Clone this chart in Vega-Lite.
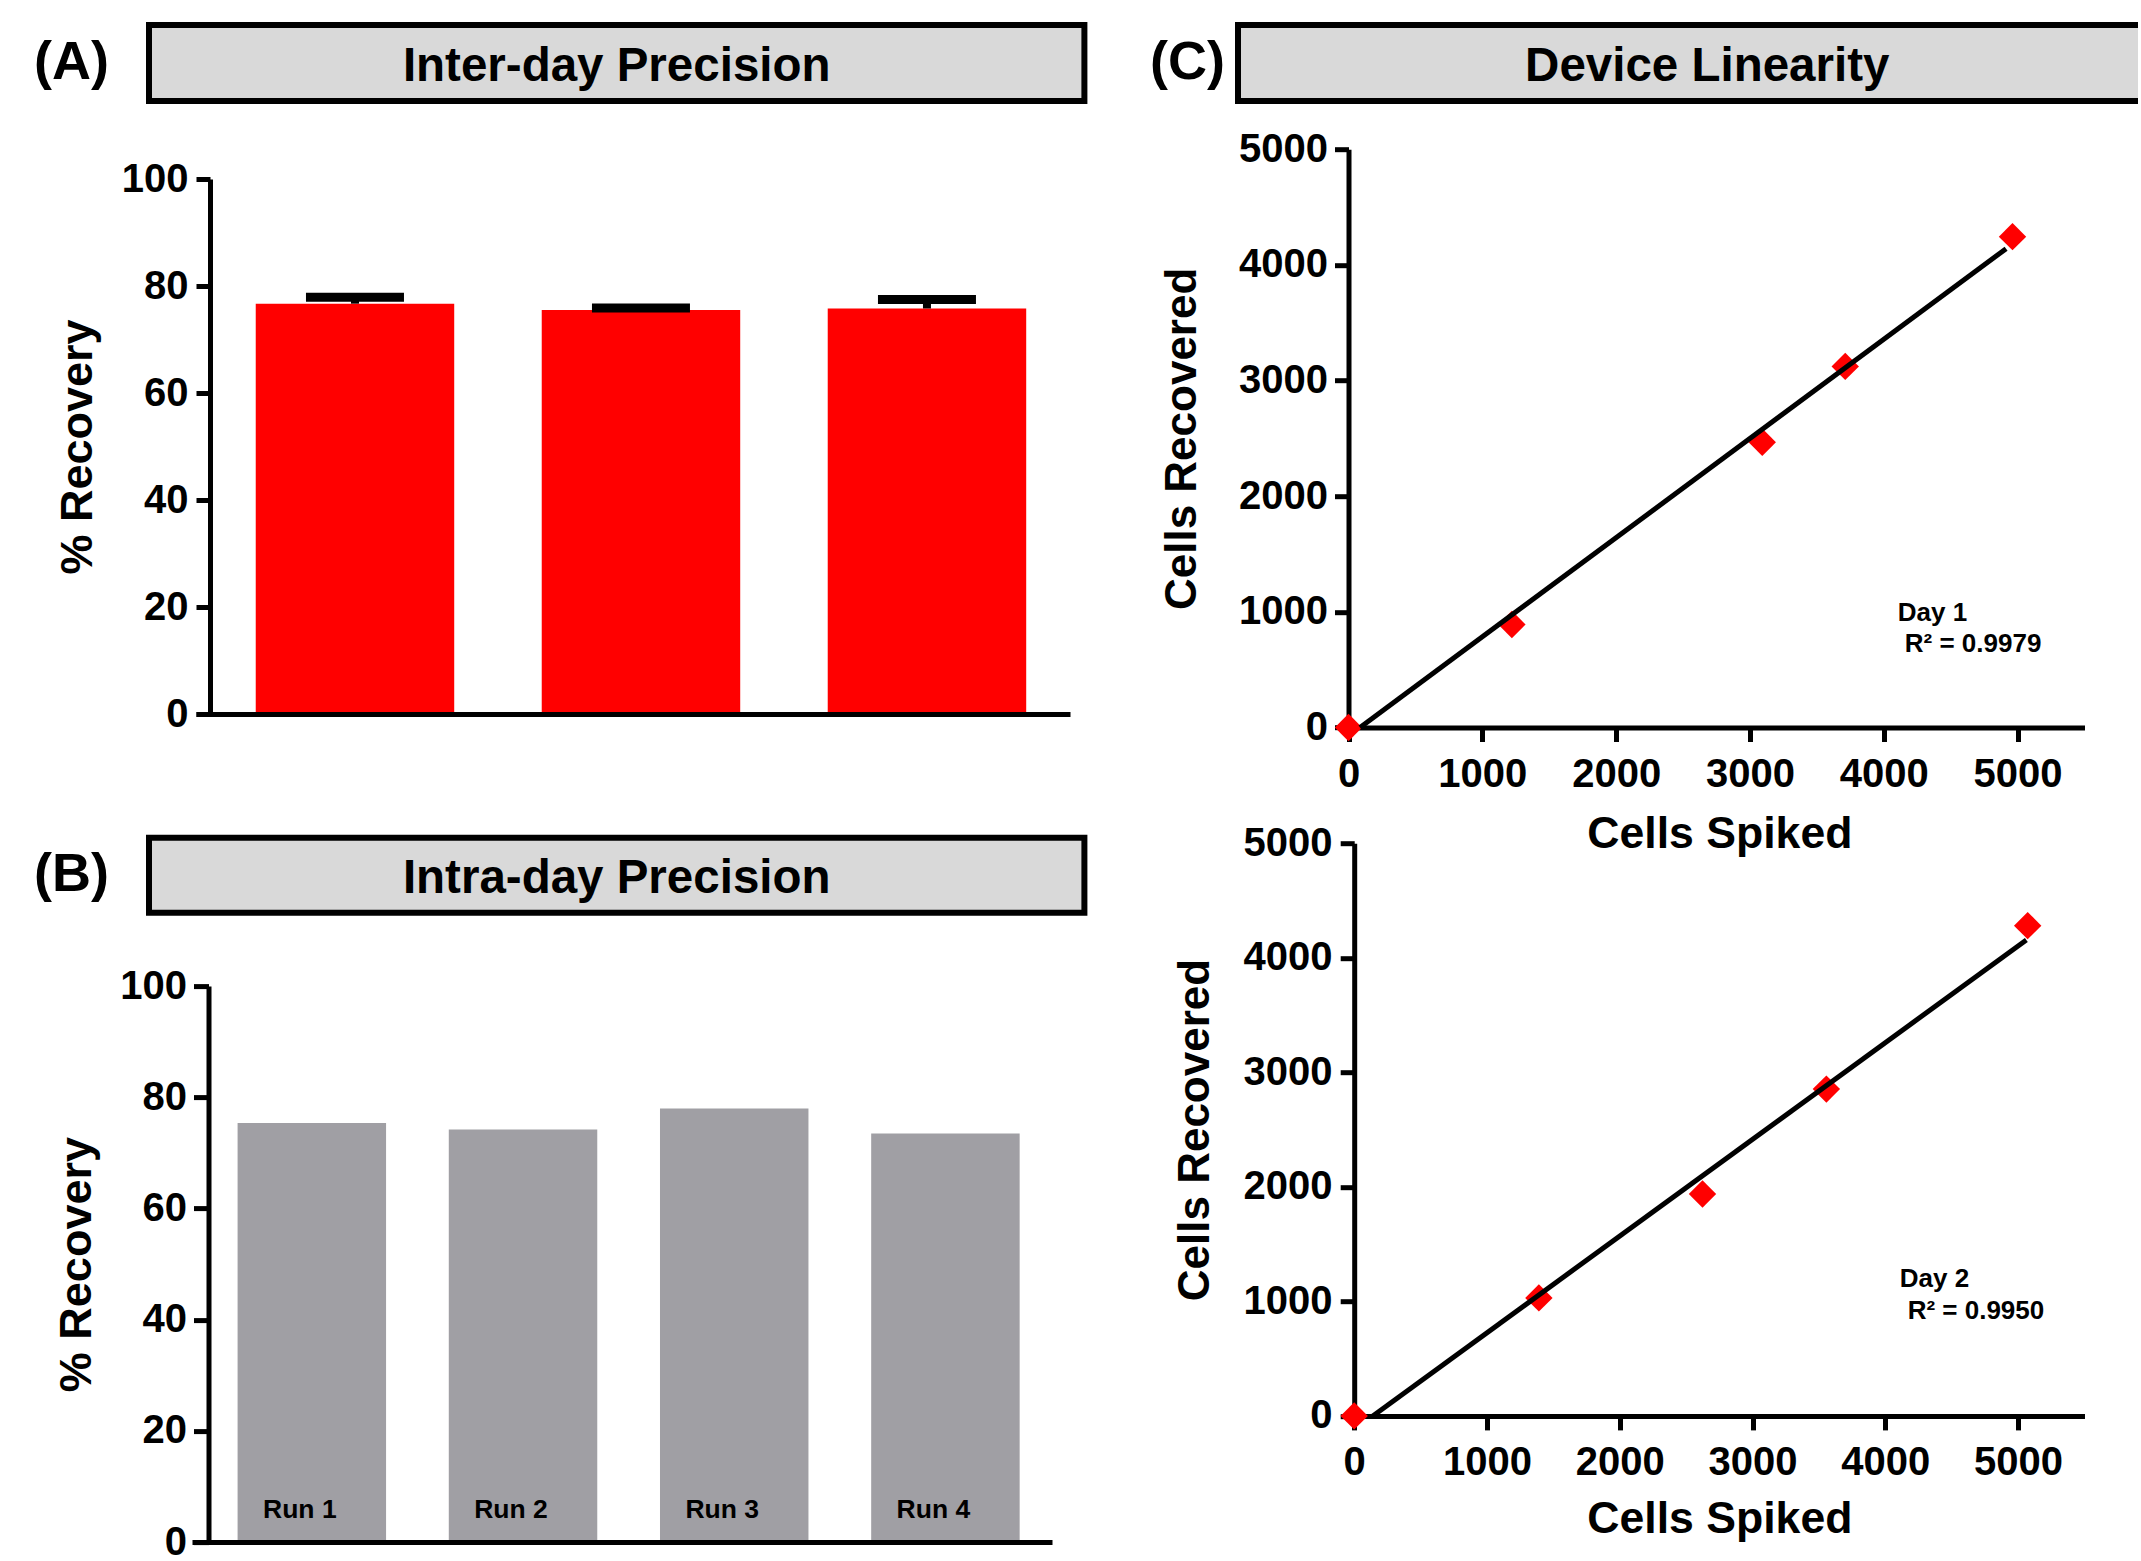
{
  "$schema": "https://vega.github.io/schema/vega-lite/v6.json",
  "background": "white",
  "padding": {"left": 31, "top": 22, "right": -7, "bottom": 0},
  "config": {
    "font": "Liberation Sans",
    "view": {"stroke": null},
    "axis": {
      "grid": false,
      "domainColor": "black",
      "tickColor": "black",
      "labelColor": "black",
      "titleColor": "black",
      "domainWidth": 5,
      "tickWidth": 5,
      "labelFontWeight": "bold",
      "titleFontWeight": "bold",
      "labelFlush": false,
      "labelFont": "Liberation Sans",
      "titleFont": "Liberation Sans"
    },
    "title": {"color": "black", "font": "Liberation Sans", "fontWeight": "bold"},
    "text": {"font": "Liberation Sans", "color": "black"}
  },
  "hconcat": [
    {
      "vconcat": [
        {
          "vconcat": [
            {
              "width": 935.4,
              "height": 76,
              "view": {"fill": "#d9d9d9", "stroke": "black", "strokeWidth": 6},
              "title": {"text": "(A)", "orient": "left", "angle": 0, "align": "right", "baseline": "middle", "anchor": "middle", "offset": -35, "fontSize": 54},
              "data": {"values": [{"header": "Inter-day Precision"}]},
              "mark": {"type": "text", "fontSize": 47.5, "fontWeight": "bold", "dy": 3.5},
              "encoding": {"text": {"field": "header"}}
            },
            {
              "width": 921,
              "height": 535,
              "data": {"values": [
                {"day": "Day 1", "recovery": 76.7, "upper": 77.9},
                {"day": "Day 2", "recovery": 75.5, "upper": 75.9},
                {"day": "Day 3", "recovery": 75.8, "upper": 77.5}
              ]},
              "encoding": {
                "x": {"field": "day", "type": "nominal", "sort": null,
                  "scale": {"rangeMin": 47, "paddingInner": 0.306, "paddingOuter": 0.181, "align": 0.577},
                  "axis": {"title": null, "labels": false, "ticks": false, "zindex": 1}}
              },
              "layer": [
                {
                  "mark": {"type": "bar", "color": "#ff0000"},
                  "encoding": {
                    "y": {"field": "recovery", "type": "quantitative",
                      "scale": {"domain": [0, 100], "nice": false},
                      "axis": {"title": "% Recovery", "values": [0, 20, 40, 60, 80, 100], "offset": -61, "tickSize": 14, "labelPadding": 8, "labelFontSize": 40, "titleFontSize": 45, "titlePadding": 21}}
                  }
                },
                {
                  "mark": {"type": "rule", "color": "black", "strokeWidth": 8},
                  "encoding": {"y": {"field": "recovery", "type": "quantitative"}, "y2": {"field": "upper"}}
                },
                {
                  "mark": {"type": "tick", "color": "black", "size": 98, "thickness": 9, "opacity": 1},
                  "encoding": {"y": {"field": "upper", "type": "quantitative"}}
                }
              ]
            }
          ],
          "spacing": 55
        },
        {
          "vconcat": [
            {
              "width": 935.4,
              "height": 75,
              "view": {"fill": "#d9d9d9", "stroke": "black", "strokeWidth": 6},
              "title": {"text": "(B)", "orient": "left", "angle": 0, "align": "right", "baseline": "middle", "anchor": "middle", "offset": -35, "fontSize": 54},
              "data": {"values": [{"header": "Intra-day Precision"}]},
              "mark": {"type": "text", "fontSize": 47.5, "fontWeight": "bold", "dy": 3.5},
              "encoding": {"text": {"field": "header"}}
            },
            {
              "width": 903,
              "height": 556,
              "data": {"values": [
                {"run": "Run 1", "recovery": 75.4},
                {"run": "Run 2", "recovery": 74.2},
                {"run": "Run 3", "recovery": 78.0},
                {"run": "Run 4", "recovery": 73.5}
              ]},
              "encoding": {
                "x": {"field": "run", "type": "nominal", "sort": null,
                  "scale": {"rangeMin": 43, "paddingInner": 0.297, "paddingOuter": 0.1845, "align": 0.585},
                  "axis": {"title": null, "labels": false, "ticks": false, "zindex": 1}}
              },
              "layer": [
                {
                  "mark": {"type": "bar", "color": "#a09fa4"},
                  "encoding": {
                    "y": {"field": "recovery", "type": "quantitative",
                      "scale": {"domain": [0, 100], "nice": false},
                      "axis": {"title": "% Recovery", "values": [0, 20, 40, 60, 80, 100], "offset": -59.5, "tickSize": 15, "labelPadding": 7, "labelFontSize": 40, "titleFontSize": 45, "titlePadding": 20}}
                  }
                },
                {
                  "mark": {"type": "text", "fontSize": 26.5, "fontWeight": "bold", "baseline": "alphabetic", "dx": -12},
                  "encoding": {"text": {"field": "run"}, "y": {"datum": 4.3}}
                }
              ]
            }
          ],
          "spacing": 50.3
        }
      ],
      "spacing": 100.8
    },
    {
      "vconcat": [
        {
          "width": 903.5,
          "height": 76,
          "view": {"fill": "#d9d9d9", "stroke": "black", "strokeWidth": 6},
          "title": {"text": "(C)", "orient": "left", "angle": 0, "align": "right", "baseline": "middle", "anchor": "middle", "offset": -62, "fontSize": 54},
          "data": {"values": [{"header": "Device Linearity"}]},
          "mark": {"type": "text", "fontSize": 47.5, "fontWeight": "bold", "dy": 3.5, "dx": 17.5},
          "encoding": {"text": {"field": "header"}}
        },
        {
          "vconcat": [
            {
              "width": 846.5,
              "height": 578.3,
              "layer": [
                {
                  "data": {"values": [
                    {"spiked": 0, "recovered": 0},
                    {"spiked": 1221, "recovered": 891},
                    {"spiked": 3092, "recovered": 2466},
                    {"spiked": 3712, "recovered": 3122},
                    {"spiked": 4962, "recovered": 4244}
                  ]},
                  "mark": {"type": "point", "shape": "diamond", "filled": true, "size": 750, "color": "#ff0000", "opacity": 1},
                  "encoding": {
                    "x": {"field": "spiked", "type": "quantitative",
                      "scale": {"domain": [0, 5500], "nice": false, "rangeMin": 110.5},
                      "axis": {"title": null, "values": [0, 1000, 2000, 3000, 4000, 5000], "format": "d", "tickSize": 14, "labelPadding": 13, "labelFontSize": 40}},
                    "y": {"field": "recovered", "type": "quantitative",
                      "scale": {"domain": [0, 5000], "nice": false},
                      "axis": {"title": "Cells Recovered", "values": [0, 1000, 2000, 3000, 4000, 5000], "format": "d", "offset": -110.5, "tickSize": 14, "labelPadding": 7, "labelFontSize": 40, "titleFontSize": 44, "titlePadding": 33.8}}
                  }
                },
                {
                  "data": {"values": [
                    {"spiked": 86, "recovered": 0},
                    {"spiked": 4914, "recovered": 4140}
                  ]},
                  "mark": {"type": "line", "color": "black", "strokeWidth": 5},
                  "encoding": {
                    "x": {"field": "spiked", "type": "quantitative"},
                    "y": {"field": "recovered", "type": "quantitative"}
                  }
                },
                {
                  "data": {"values": [{"label": "Day 1"}]},
                  "mark": {"type": "text", "align": "left", "baseline": "alphabetic", "fontSize": 26, "fontWeight": "bold"},
                  "encoding": {"x": {"datum": 4105}, "y": {"datum": 925}, "text": {"field": "label"}}
                },
                {
                  "data": {"values": [{"label": "R² = 0.9979"}]},
                  "mark": {"type": "text", "align": "left", "baseline": "alphabetic", "fontSize": 26, "fontWeight": "bold"},
                  "encoding": {"x": {"datum": 4157}, "y": {"datum": 650}, "text": {"field": "label"}}
                }
              ]
            },
            {
              "width": 846.5,
              "height": 572.7,
              "resolve": {"axis": {"x": "independent"}},
              "layer": [
                {
                  "data": {"values": [
                    {"spiked": 0, "recovered": 0},
                    {"spiked": 1391, "recovered": 1030},
                    {"spiked": 2623, "recovered": 1937},
                    {"spiked": 3556, "recovered": 2853},
                    {"spiked": 5072, "recovered": 4280}
                  ]},
                  "mark": {"type": "point", "shape": "diamond", "filled": true, "size": 750, "color": "#ff0000", "opacity": 1},
                  "encoding": {
                    "x": {"field": "spiked", "type": "quantitative",
                      "scale": {"domain": [0, 5500], "nice": false, "rangeMin": 116.2},
                      "axis": {"orient": "bottom", "title": "Cells Spiked", "values": [0, 1000, 2000, 3000, 4000, 5000], "format": "d", "tickSize": 14, "labelPadding": 13, "labelFontSize": 40, "titleFontSize": 44.6, "titlePadding": 15}},
                    "y": {"field": "recovered", "type": "quantitative",
                      "scale": {"domain": [0, 5000], "nice": false},
                      "axis": {"title": "Cells Recovered", "values": [0, 1000, 2000, 3000, 4000, 5000], "format": "d", "offset": -116.2, "tickSize": 14, "labelPadding": 8.2, "labelFontSize": 40, "titleFontSize": 44, "titlePadding": 25.8}}
                  }
                },
                {
                  "data": {"values": [
                    {"spiked": 140, "recovered": 0},
                    {"spiked": 5062, "recovered": 4155}
                  ]},
                  "mark": {"type": "line", "color": "black", "strokeWidth": 5},
                  "encoding": {
                    "x": {"field": "spiked", "type": "quantitative",
                      "axis": {"orient": "top", "title": "Cells Spiked", "labels": false, "ticks": false, "domain": false, "minExtent": 0, "maxExtent": 0, "titleFontSize": 44.6, "titlePadding": -13.5}},
                    "y": {"field": "recovered", "type": "quantitative"}
                  }
                },
                {
                  "data": {"values": [{"label": "Day 2"}]},
                  "mark": {"type": "text", "align": "left", "baseline": "alphabetic", "fontSize": 26, "fontWeight": "bold"},
                  "encoding": {"x": {"datum": 4109, "axis": null}, "y": {"datum": 1122}, "text": {"field": "label"}}
                },
                {
                  "data": {"values": [{"label": "R² = 0.9950"}]},
                  "mark": {"type": "text", "align": "left", "baseline": "alphabetic", "fontSize": 26, "fontWeight": "bold"},
                  "encoding": {"x": {"datum": 4168, "axis": null}, "y": {"datum": 844}, "text": {"field": "label"}}
                }
              ]
            }
          ],
          "spacing": 16
        }
      ],
      "spacing": 25.2
    }
  ],
  "spacing": 59
}
